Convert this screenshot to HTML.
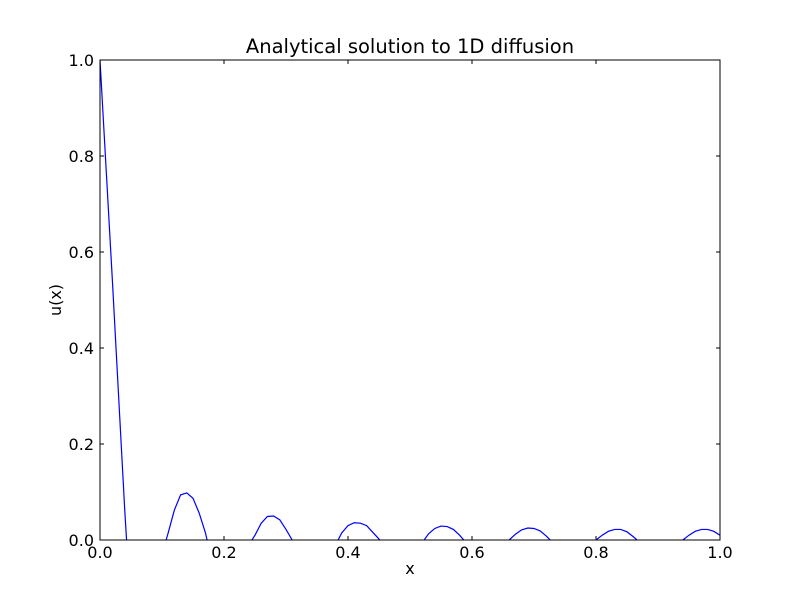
<!DOCTYPE html>
<html><head><meta charset="utf-8"><style>
body{margin:0;background:#fff;}
svg text{font-family:"DejaVu Sans","Liberation Sans",sans-serif;fill:#000;}
</style></head><body>
<svg id="chart" width="800" height="600">
<rect width="800" height="600" fill="#fff"/>
<defs><clipPath id="clip"><rect x="100" y="60" width="620" height="480"/></clipPath></defs>
<text x="410" y="53" font-size="19.5" text-anchor="middle">Analytical solution to 1D diffusion</text>
<text x="410" y="574" font-size="16" text-anchor="middle">x</text>
<text x="61" y="300" font-size="16" text-anchor="middle" transform="rotate(-90 61 300)">u(x)</text>
<g id="ticks"></g>
<path id="line" fill="none" stroke="#0000ff" stroke-width="1.2" clip-path="url(#clip)"/>
<rect x="100" y="60" width="620" height="480" fill="none" stroke="#000" stroke-width="1"/>
</svg>
<script>
const xTicks=[0,0.2,0.4,0.6,0.8,1.0];
const xTickLabels=["0.0","0.2","0.4","0.6","0.8","1.0"];
const yTicks=[0,0.2,0.4,0.6,0.8,1.0];
const yTickLabels=["0.0","0.2","0.4","0.6","0.8","1.0"];
const uValues=[1,0.77,0.54,0.3,0.06,-0.15,-0.1,-0.08,-0.06,-0.04,-0.03,0.015,0.0625,0.094,0.098,0.087,0.056,0.015,-0.04,-0.05,
-0.04,-0.03,-0.025,-0.02,-0.01,0.01,0.035,0.049,0.05,0.042,0.022,0.0,-0.02,-0.03,-0.025,-0.02,-0.015,-0.01,-0.01,0.015,
0.03,0.036,0.035,0.03,0.016,0.002,-0.015,-0.02,-0.02,-0.015,-0.01,-0.01,-0.005,0.013,0.024,0.029,0.028,0.022,0.01,-0.005,
-0.015,-0.015,-0.012,-0.01,-0.008,-0.004,0.0,0.012,0.021,0.025,0.024,0.019,0.008,-0.005,-0.012,-0.012,-0.01,-0.008,-0.005,-0.002,
0.0,0.01,0.018,0.022,0.022,0.017,0.007,-0.004,-0.01,-0.01,-0.008,-0.006,-0.004,-0.002,0.0,0.01,0.018,0.022,0.022,0.018,0.01];
const xs=uValues.map((_,i)=>i/100);
const sx=v=>100+v*620, sy=v=>540-v*480;
const ns="http://www.w3.org/2000/svg";
const g=document.getElementById('ticks');
function mk(tag,attrs,parent){const e=document.createElementNS(ns,tag);for(const k in attrs)e.setAttribute(k,attrs[k]);parent.appendChild(e);return e;}
xTicks.forEach((t,i)=>{const x=sx(t);
 const a=mk('line',{x1:x,x2:x,y1:540,y2:536,stroke:'#000'},g);
 
 
 const b=mk('line',{x1:x,x2:x,y1:60,y2:64,stroke:'#000'},g);
 
 
 const tx=mk('text',{x:x,y:558,'font-size':16,'text-anchor':'middle'},g);tx.textContent=xTickLabels[i];
 
 
});
yTicks.forEach((t,i)=>{const y=sy(t);
 const a=mk('line',{x1:100,x2:104,y1:y,y2:y,stroke:'#000'},g);
 
 
 const b=mk('line',{x1:716,x2:720,y1:y,y2:y,stroke:'#000'},g);
 
 
 const tx=mk('text',{x:94,y:y+6,'font-size':16,'text-anchor':'end'},g);tx.textContent=yTickLabels[i];
 
 
});
document.getElementById('line').setAttribute('d',uValues.map((v,i)=>(i?'L':'M')+sx(xs[i]).toFixed(2)+','+sy(v).toFixed(2)).join(''));
</script>
</body></html>
